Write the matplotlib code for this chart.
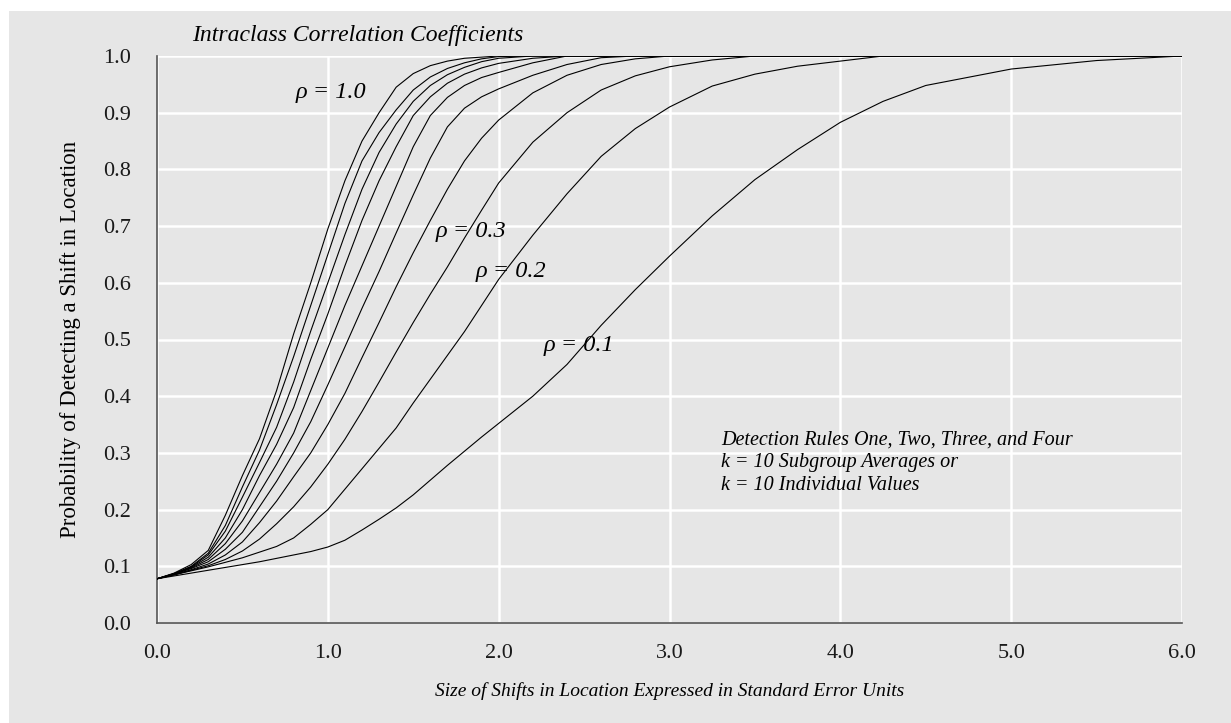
import matplotlib.pyplot as plt
from matplotlib.patches import Rectangle

# shift sizes (standard error units), common grid for all curves
shift = [0.0, 0.1, 0.2, 0.3, 0.4, 0.5, 0.6, 0.7, 0.8, 0.9, 1.0,
         1.1, 1.2, 1.3, 1.4, 1.5, 1.6, 1.7, 1.8, 1.9, 2.0,
         2.2, 2.4, 2.6, 2.8, 3.0, 3.25, 3.5, 3.75, 4.0, 4.25, 4.5, 5.0, 5.5, 6.0]

# probability of detection for each intraclass correlation
rho_1_0 = [.078, .088, .103, .128, .190, .260, .325, .410, .510, .600, .695,
           .780, .850, .900, .945, .969, .983, .991, .996, .998, 1.0,
           1, 1, 1, 1, 1, 1, 1, 1, 1, 1, 1, 1, 1, 1]
rho_0_9 = [.078, .087, .100, .123, .172, .240, .305, .385, .470, .560, .650,
           .740, .815, .865, .905, .940, .963, .978, .988, .995, .999,
           1, 1, 1, 1, 1, 1, 1, 1, 1, 1, 1, 1, 1, 1]
rho_0_8 = [.078, .087, .099, .120, .162, .222, .283, .345, .425, .515, .600,
           .685, .765, .830, .880, .920, .948, .967, .980, .990, .996,
           1, 1, 1, 1, 1, 1, 1, 1, 1, 1, 1, 1, 1, 1]
rho_0_7 = [.078, .087, .098, .116, .150, .200, .260, .315, .380, .465, .545,
           .630, .710, .780, .840, .895, .928, .952, .968, .979, .987,
           .996, 1, 1, 1, 1, 1, 1, 1, 1, 1, 1, 1, 1, 1]
rho_0_6 = [.078, .086, .097, .112, .140, .180, .230, .280, .335, .410, .485,
           .560, .630, .700, .770, .840, .895, .927, .948, .962, .971,
           .988, 1, 1, 1, 1, 1, 1, 1, 1, 1, 1, 1, 1, 1]
rho_0_5 = [.078, .086, .096, .108, .130, .160, .205, .250, .300, .355, .420,
           .487, .555, .620, .688, .755, .820, .875, .908, .928, .942,
           .966, .985, .997, 1, 1, 1, 1, 1, 1, 1, 1, 1, 1, 1]
rho_0_4 = [.078, .085, .094, .104, .120, .143, .177, .215, .258, .300, .350,
           .405, .468, .530, .593, .653, .710, .765, .815, .855, .887,
           .935, .966, .985, .995, 1, 1, 1, 1, 1, 1, 1, 1, 1, 1]
rho_0_3 = [.078, .085, .093, .101, .112, .127, .148, .175, .205, .240, .280,
           .324, .373, .425, .478, .530, .580, .628, .679, .728, .776,
           .848, .900, .940, .965, .981, .993, 1, 1, 1, 1, 1, 1, 1, 1]
rho_0_2 = [.078, .085, .092, .099, .107, .115, .125, .135, .150, .174, .200,
           .236, .272, .308, .344, .388, .430, .472, .514, .560, .606,
           .684, .757, .823, .872, .910, .947, .968, .982, .991, 1, 1, 1, 1, 1]
rho_0_1 = [.078, .083, .088, .093, .098, .103, .108, .114, .120, .126, .134,
           .146, .164, .183, .203, .226, .252, .278, .303, .328, .352,
           .400, .456, .525, .588, .647, .718, .782, .835, .883, .920, .948, .977, .992, 1.0]

curves = [rho_1_0, rho_0_9, rho_0_8, rho_0_7, rho_0_6,
          rho_0_5, rho_0_4, rho_0_3, rho_0_2, rho_0_1]

bg = '#e6e6e6'
plt.rcParams['font.family'] = ['Liberation Serif', 'DejaVu Serif']

fig = plt.figure(figsize=(12.31, 7.23), dpi=100, facecolor='white')
fig.patches.append(Rectangle((9 / 1231, 0), 1, 1 - 11 / 723, transform=fig.transFigure,
                             facecolor=bg, edgecolor='none', zorder=-10))
ax = fig.add_axes([157 / 1231, 100 / 723, 1025 / 1231, 567 / 723])
ax.set_facecolor(bg)

for c in curves:
    ax.plot(shift, c, color='black', lw=0.8, zorder=3)

ax.set_xlim(0, 6)
ax.set_ylim(0, 1)
ax.set_xticks([0, 1, 2, 3, 4, 5, 6])
ax.set_xticklabels(['0.0', '1.0', '2.0', '3.0', '4.0', '5.0', '6.0'])
ax.set_yticks([i / 10 for i in range(11)])
ax.set_yticklabels(['%.1f' % (i / 10) for i in range(11)])
ax.tick_params(length=0, labelsize=16, colors='#1a1a1a')
ax.tick_params(axis='y', pad=18.5)
ax.tick_params(axis='x', pad=15)
ax.grid(True, color='white', lw=1.8)
ax.set_axisbelow(True)
for s in ['top', 'right']:
    ax.spines[s].set_visible(False)
for s in ['left', 'bottom']:
    ax.spines[s].set_color('#555555')
    ax.spines[s].set_linewidth(1.2)

ax.set_ylabel('Probability of Detecting a Shift in Location', fontsize=16.5, labelpad=16)
ax.set_xlabel('Size of Shifts in Location Expressed in Standard Error Units',
              fontsize=14, style='italic', labelpad=14)

fig.text(192 / 1231, 1 - 36 / 723, 'Intraclass Correlation Coefficients',
         fontsize=17, style='italic', va='center', ha='left')

labels = [(1.02, 0.935, 'ρ = 1.0'), (1.836, 0.69, 'ρ = 0.3'),
          (2.07, 0.62, 'ρ = 0.2'), (2.47, 0.49, 'ρ = 0.1')]
for x, y, t in labels:
    ax.text(x, y, t, fontsize=17.5, style='italic', ha='center', va='center', zorder=4)

notes = ['Detection Rules One, Two, Three, and Four',
         'k = 10 Subgroup Averages or',
         'k = 10 Individual Values']
for i, t in enumerate(notes):
    ax.text(3.30, 0.323 - i * 0.0405, t, fontsize=14.5, style='italic', ha='left', va='center')

fig.savefig('out.png', dpi=100, facecolor=fig.get_facecolor())
